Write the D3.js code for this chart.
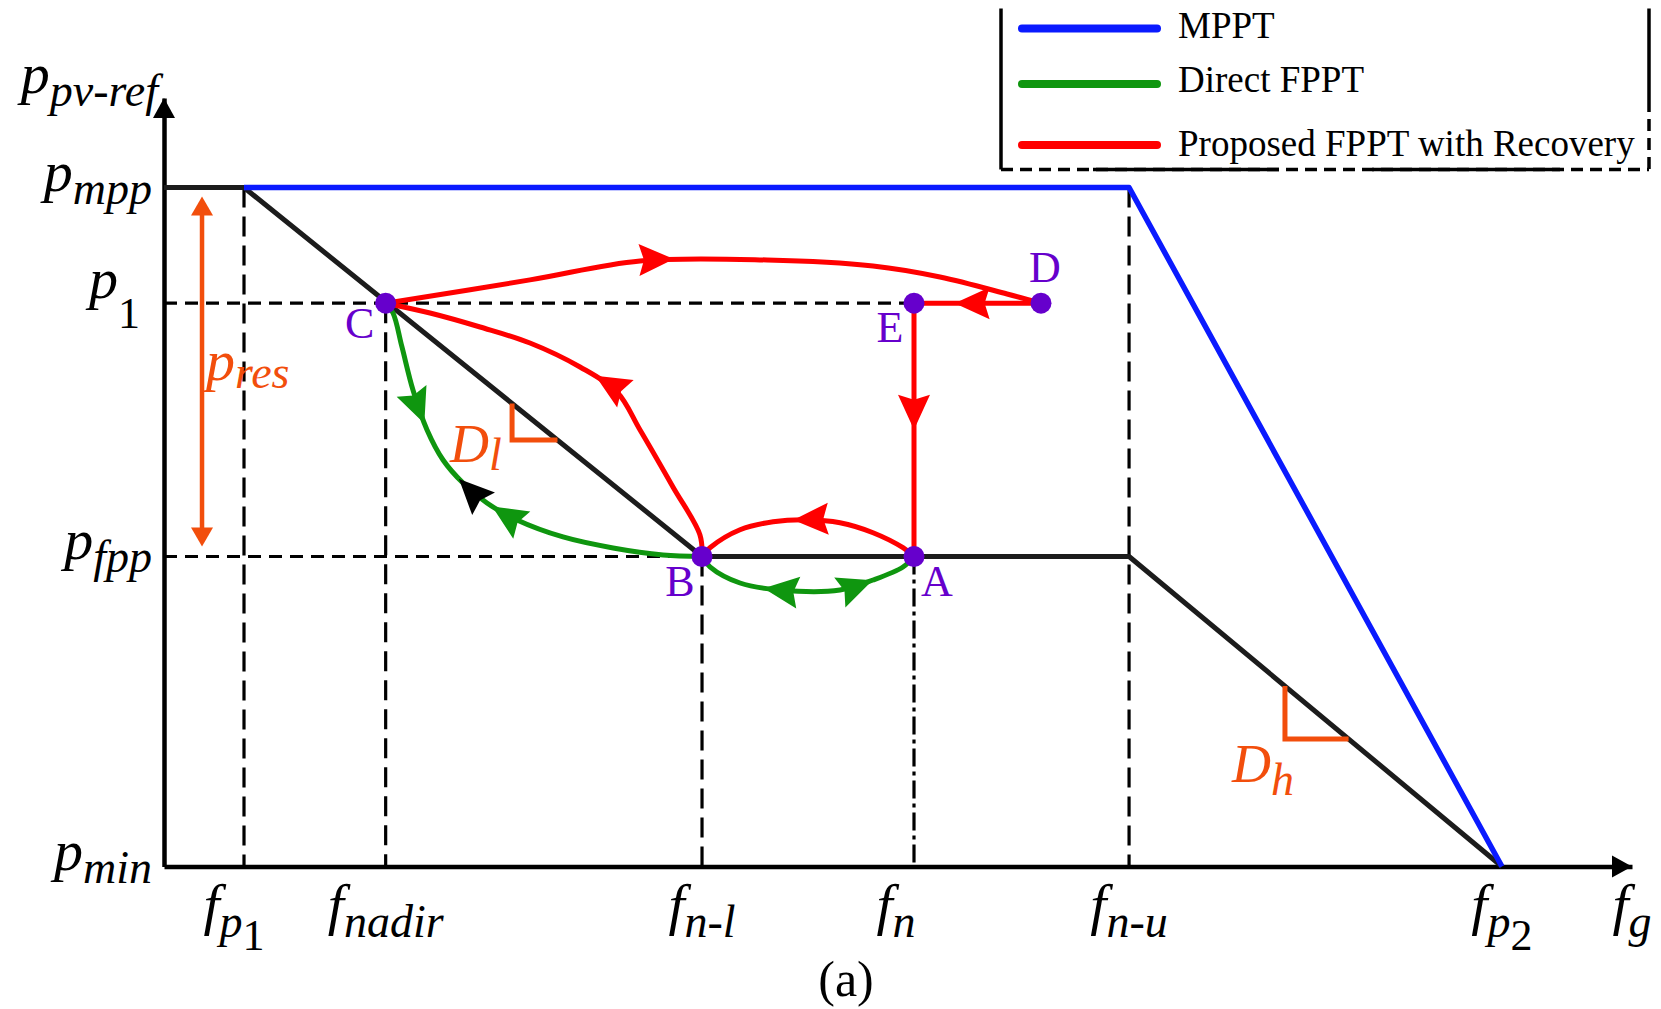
<!DOCTYPE html>
<html>
<head>
<meta charset="utf-8">
<script src="https://cdn.jsdelivr.net/npm/d3@7"></script>
<style>
  html, body { margin: 0; padding: 0; background: #fff; }
  svg { display: block; }
</style>
</head>
<body>
<svg id="chart" width="1661" height="1009"></svg>
<script>
// ---------- data (normalised units: frequency 0..10, power 0..10) ----------
const freqKeys   = ["fp1", "fnadir", "fn-l", "fn", "fn-u", "fp2"];
const freqValues = [0.545, 1.51, 3.665, 5.109, 6.574, 9.114];
const freqLabels = [["f", "p", "1"], ["f", "nadir"], ["f", "n-l"], ["f", "n"], ["f", "n-u"], ["f", "p", "2"]];

const powerKeys   = ["pmin", "pfpp", "p1", "pmpp"];
const powerValues = [0, 4.034, 7.33, 8.835];
const powerLabels = [["p", "min"], ["p", "fpp"], ["p", "1"], ["p", "mpp"]];

const axisMax = 10;

// operating points
const pointNames = ["A", "B", "C", "D", "E"];
const pointFreq  = [5.109, 3.665, 1.51, 5.974, 5.109];
const pointPower = [4.034, 4.034, 7.33, 7.33, 7.33];

// reference characteristics
const mpptCurve  = [[0.545, 8.835], [6.574, 8.835], [9.114, 0]];
const droopCurve = [[0, 8.835], [0.545, 8.835], [3.665, 4.034], [6.574, 4.034], [9.114, 0]];

// trajectories
const redCtoD = [[1.51, 7.33], [2.493, 7.633], [3.243, 7.880], [4.108, 7.892], [4.830, 7.814], [5.286, 7.671], [5.743, 7.450], [5.974, 7.33]];
const redBtoC = [[3.665, 4.034], [3.651, 4.314], [3.467, 4.939], [3.243, 5.680], [3.086, 6.174], [2.834, 6.500], [2.493, 6.812], [2.153, 7.020], [1.812, 7.202], [1.51, 7.33]];
const redAtoB = [[5.109, 4.034], [5.034, 4.148], [4.830, 4.343], [4.605, 4.473], [4.380, 4.512], [4.149, 4.486], [3.924, 4.382], [3.719, 4.148], [3.665, 4.034]];
const redDtoE = [[5.974, 7.33], [5.109, 7.33]];
const redEtoA = [[5.109, 7.33], [5.109, 4.034]];
const greenCtoB = [[1.51, 7.33], [1.560, 7.202], [1.621, 6.760], [1.696, 6.200], [1.792, 5.680], [1.901, 5.290], [2.037, 4.990], [2.200, 4.730], [2.405, 4.509], [2.718, 4.288], [3.059, 4.145], [3.399, 4.054], [3.665, 4.034]];
const greenBtoA = [[3.665, 4.034], [3.719, 3.900], [3.924, 3.689], [4.196, 3.598], [4.605, 3.598], [4.830, 3.728], [5.034, 3.897], [5.109, 4.034]];

// droop-slope markers (corner of the right angle)
const droopMarkNames = ["l", "h"];
const droopMarkFreq  = [2.371, 7.636];
const droopMarkPower = [5.549, 1.659];

const legendNames = ["MPPT", "Direct FPPT", "Proposed FPPT with Recovery"];

// ---------- styles ----------
const BLUE = "#0a1aff", GREEN = "#0f960f", RED = "#ff0000", INK = "#1c1c1c";
const PURPLE = "#6600cc", ORANGE = "#f24e0c";
const FONT = '"Liberation Serif"';
const MAIN_SIZE = 58, SUB_SIZE = 46;
// small horizontal nudges for tick labels whose glyphs sit off-centre
const tickNudge = { fp1: -10, fn: -18 };

const svg = d3.select("#chart");
const x = d3.scaleLinear().domain([0, axisMax]).range([164, 1632]);
const y = d3.scaleLinear().domain([0, axisMax]).range([866.5, 98]);
const line = d3.line().x(d => x(d[0])).y(d => y(d[1]));
const smooth = d3.line().x(d => x(d[0])).y(d => y(d[1])).curve(d3.curveCatmullRom.alpha(0.5));

const fIdx = k => freqValues[freqKeys.indexOf(k)];
const pIdx = k => powerValues[powerKeys.indexOf(k)];

// ---------- guide lines ----------
const guides = svg.append("g").attr("stroke", "#000").attr("fill", "none");
// vertical guides from each characteristic point down to the axis
const vGuides = [
  { f: fIdx("fp1"), p: pIdx("pmpp"), dash: "20,9" },
  { f: fIdx("fnadir"), p: pIdx("p1"), dash: "20,9" },
  { f: fIdx("fn-l"), p: pIdx("pfpp"), dash: "20,9" },
  { f: fIdx("fn"), p: pIdx("pfpp"), dash: "18,5,4,5" },
  { f: fIdx("fn-u"), p: pIdx("pmpp"), dash: "20,9" }
];
guides.selectAll("line.v").data(vGuides).join("line")
  .attr("class", "v")
  .attr("x1", d => x(d.f)).attr("x2", d => x(d.f))
  .attr("y1", d => y(d.p)).attr("y2", y(0))
  .attr("stroke-width", 3.2).attr("stroke-dasharray", d => d.dash);
// horizontal guides from the power axis
const hGuides = [
  { p: pIdx("p1"), f: fIdx("fn") },
  { p: pIdx("pfpp"), f: fIdx("fn-l") }
];
guides.selectAll("line.h").data(hGuides).join("line")
  .attr("class", "h")
  .attr("x1", x(0)).attr("x2", d => x(d.f))
  .attr("y1", d => y(d.p)).attr("y2", d => y(d.p))
  .attr("stroke-width", 3.2).attr("stroke-dasharray", "13,8");

// ---------- axes ----------
const xAxis = d3.axisBottom(x).tickValues([]).tickSizeOuter(0);
const yAxis = d3.axisLeft(y).tickValues([]).tickSizeOuter(0);
svg.append("g").attr("transform", `translate(0,${y(0)})`).call(xAxis)
  .select(".domain").attr("stroke", "#000").attr("stroke-width", 4.5);
svg.append("g").attr("transform", `translate(${x(0)},0)`).call(yAxis)
  .select(".domain").attr("stroke", "#000").attr("stroke-width", 4.5);
// axis arrowheads
svg.append("path")
  .attr("d", `M${x(axisMax)},${y(0)} L${x(axisMax) - 20},${y(0) - 11} L${x(axisMax) - 20},${y(0) + 11} Z`)
  .attr("fill", "#000");
svg.append("path")
  .attr("d", `M${x(0)},${y(axisMax)} L${x(0) - 11},${y(axisMax) + 20} L${x(0) + 11},${y(axisMax) + 20} Z`)
  .attr("fill", "#000");

// ---------- characteristics ----------
svg.append("path").attr("d", line(droopCurve))
  .attr("fill", "none").attr("stroke", INK).attr("stroke-width", 5).attr("stroke-linejoin", "round");
svg.append("path").attr("d", line(mpptCurve))
  .attr("fill", "none").attr("stroke", BLUE).attr("stroke-width", 5.5).attr("stroke-linejoin", "round");

// ---------- droop slope markers ----------
function droopPowerAt(f) {
  for (let i = 0; i < droopCurve.length - 1; i++) {
    const [f0, p0] = droopCurve[i], [f1, p1] = droopCurve[i + 1];
    if (f >= f0 && f <= f1 && f1 > f0) return p0 + (p1 - p0) * (f - f0) / (f1 - f0);
  }
  return null;
}
function droopFreqAt(p, near) {
  let best = null;
  for (let i = 0; i < droopCurve.length - 1; i++) {
    const [f0, p0] = droopCurve[i], [f1, p1] = droopCurve[i + 1];
    if (p1 === p0) continue;
    const t = (p - p0) / (p1 - p0);
    if (t >= 0 && t <= 1) {
      const f = f0 + t * (f1 - f0);
      if (best === null || Math.abs(f - near) < Math.abs(best - near)) best = f;
    }
  }
  return best;
}
const marks = svg.append("g");
droopMarkNames.forEach((n, i) => {
  const f = droopMarkFreq[i], p = droopMarkPower[i];
  const pTop = droopPowerAt(f), fRight = droopFreqAt(p, f);
  marks.append("path")
    .attr("d", `M${x(f)},${y(pTop)} L${x(f)},${y(p)} L${x(fRight)},${y(p)}`)
    .attr("fill", "none").attr("stroke", ORANGE).attr("stroke-width", 5);
});

// ---------- trajectories ----------
function arrowHead(g, px, py, ang, color) {
  const len = 35, hw = 16, notch = 5;
  g.append("path")
    .attr("d", `M0,0 L${-len},${-hw} L${-len + notch},0 L${-len},${hw} Z`)
    .attr("transform", `translate(${px},${py}) rotate(${ang * 180 / Math.PI})`)
    .attr("fill", color);
}
const trajectories = [
  { pts: greenCtoB, color: GREEN, gen: smooth, arrows: [{ at: 0.28 }, { at: 0.52, reverse: true }, { at: 0.425, reverse: true, color: "#000" }] },
  { pts: greenBtoA, color: GREEN, gen: smooth, arrows: [{ at: 0.31, reverse: true }, { at: 0.79 }] },
  { pts: redCtoD, color: RED, gen: smooth, arrows: [{ at: 0.44 }] },
  { pts: redBtoC, color: RED, gen: smooth, arrows: [{ at: 0.49 }] },
  { pts: redAtoB, color: RED, gen: smooth, arrows: [{ at: 0.56 }] },
  { pts: redDtoE, color: RED, gen: line, arrows: [{ at: 0.68 }] },
  { pts: redEtoA, color: RED, gen: line, arrows: [{ at: 0.5 }] }
];
const trajG = svg.append("g");
trajectories.forEach(t => {
  const path = trajG.append("path").attr("d", t.gen(t.pts))
    .attr("fill", "none").attr("stroke", t.color).attr("stroke-width", 5)
    .attr("stroke-linecap", "round").attr("stroke-linejoin", "round");
  const node = path.node(), total = node.getTotalLength();
  t.arrows.forEach(a => {
    const L = total * a.at;
    const p = node.getPointAtLength(L);
    const q = node.getPointAtLength(a.reverse ? Math.min(total, L + 3) : Math.max(0, L - 3));
    arrowHead(trajG, p.x, p.y, Math.atan2(p.y - q.y, p.x - q.x), a.color || t.color);
  });
});

// ---------- operating points ----------
const labelOffset = { A: [23, 40], B: [-22, 40], C: [-26, 35], D: [4, -21], E: [-24, 39] };
const pts = svg.append("g");
pointNames.forEach((n, i) => {
  const cx = x(pointFreq[i]), cy = y(pointPower[i]);
  pts.append("circle").attr("cx", cx).attr("cy", cy).attr("r", 10.5).attr("fill", PURPLE);
  pts.append("text").attr("x", cx + labelOffset[n][0]).attr("y", cy + labelOffset[n][1])
    .style("font-family", FONT)
    .attr("text-anchor", "middle").attr("font-size", 44).attr("fill", PURPLE).text(n);
});

// ---------- math labels ----------
function mathText(g, px, py, parts, anchor, color, subDrop) {
  const t = g.append("text").attr("x", px).attr("y", py)
    .style("font-family", FONT)
    .attr("text-anchor", anchor).attr("fill", color || "#000");
  parts.forEach((s, i) => {
    const digit = /^[0-9]$/.test(s);
    const ts = t.append("tspan").text(s)
      .style("font-family", FONT)
      .attr("font-style", digit ? "normal" : "italic")
      .attr("font-size", i === 0 ? MAIN_SIZE : (digit ? 44 : SUB_SIZE));
    if (i > 0) ts.attr("dy", (i === 1 && subDrop) ? subDrop : 13);
  });
  return t;
}
const labels = svg.append("g");
// frequency tick labels
freqKeys.forEach((k, i) => mathText(labels, x(freqValues[i]) + (tickNudge[k] || 0), 924, freqLabels[i], "middle"));
mathText(labels, x(axisMax), 924, ["f", "g"], "middle");
// power tick labels
powerKeys.forEach((k, i) => {
  const isDigit = /^[0-9]$/.test(powerLabels[i][1]);
  mathText(labels, isDigit ? 140 : 152, y(powerValues[i]) + (isDigit ? -5 : 3), powerLabels[i], "end", "#000", isDigit ? 30 : 13);
});
// axis title
mathText(labels, 158, 93, ["p", "pv-ref"], "end");

// annotations
const pres = svg.append("g");
const presF = 0.259;
const yTop = y(pIdx("pmpp")) + 9, yBot = y(pIdx("pfpp")) - 10;
pres.append("line").attr("x1", x(presF)).attr("x2", x(presF))
  .attr("y1", yTop + 15).attr("y2", yBot - 15)
  .attr("stroke", ORANGE).attr("stroke-width", 4.5);
pres.append("path")
  .attr("d", `M${x(presF)},${yTop} L${x(presF) - 11},${yTop + 19} L${x(presF) + 11},${yTop + 19} Z`)
  .attr("fill", ORANGE);
pres.append("path")
  .attr("d", `M${x(presF)},${yBot} L${x(presF) - 11},${yBot - 19} L${x(presF) + 11},${yBot - 19} Z`)
  .attr("fill", ORANGE);
mathText(labels, x(0.286), y(6.33), ["p", "res"], "start", ORANGE, 8);
mathText(labels, x(1.948), y(5.263), ["D", "l"], "start", ORANGE, 8).selectAll("tspan").filter((d, i) => i === 0).attr("font-size", 54);
mathText(labels, x(7.275), y(1.0995), ["D", "h"], "start", ORANGE, 13).selectAll("tspan").filter((d, i) => i === 0).attr("font-size", 54);

// caption
svg.append("text").attr("x", 846).attr("y", 996).attr("text-anchor", "middle")
  .style("font-family", FONT).attr("font-size", 50).text("(a)");

// ---------- legend ----------
const leg = svg.append("g");
const legColors = [BLUE, GREEN, RED];
const legLineY = [28.5, 84, 145];
const legTextY = [38, 92, 156];
legendNames.forEach((n, i) => {
  leg.append("line").attr("x1", 1022).attr("x2", 1157)
    .attr("y1", legLineY[i]).attr("y2", legLineY[i])
    .attr("stroke", legColors[i]).attr("stroke-width", 8).attr("stroke-linecap", "round");
  leg.append("text").attr("x", 1178).attr("y", legTextY[i])
    .style("font-family", FONT)
    .attr("font-size", 37).attr("fill", "#000").text(n);
});
const bx0 = 1001, bx1 = 1649, by0 = 8.5, by1 = 169.5;
leg.append("line").attr("x1", bx0).attr("x2", bx0).attr("y1", by0).attr("y2", by1)
  .attr("stroke", "#000").attr("stroke-width", 3.5);
leg.append("line").attr("x1", bx1).attr("x2", bx1).attr("y1", by0).attr("y2", 100)
  .attr("stroke", "#000").attr("stroke-width", 3.5);
leg.append("line").attr("x1", bx1).attr("x2", bx1).attr("y1", 100).attr("y2", by1)
  .attr("stroke", "#000").attr("stroke-width", 3.5).attr("stroke-dasharray", "12,7");
leg.append("line").attr("x1", bx0).attr("x2", bx1).attr("y1", by1).attr("y2", by1)
  .attr("stroke", "#000").attr("stroke-width", 3.5).attr("stroke-dasharray", "12,7");
[[1093, 1279], [1372, 1560]].forEach(s => {
  leg.append("line").attr("x1", s[0]).attr("x2", s[1]).attr("y1", by1).attr("y2", by1)
    .attr("stroke", "#000").attr("stroke-width", 3.5);
});
</script>
</body>
</html>
